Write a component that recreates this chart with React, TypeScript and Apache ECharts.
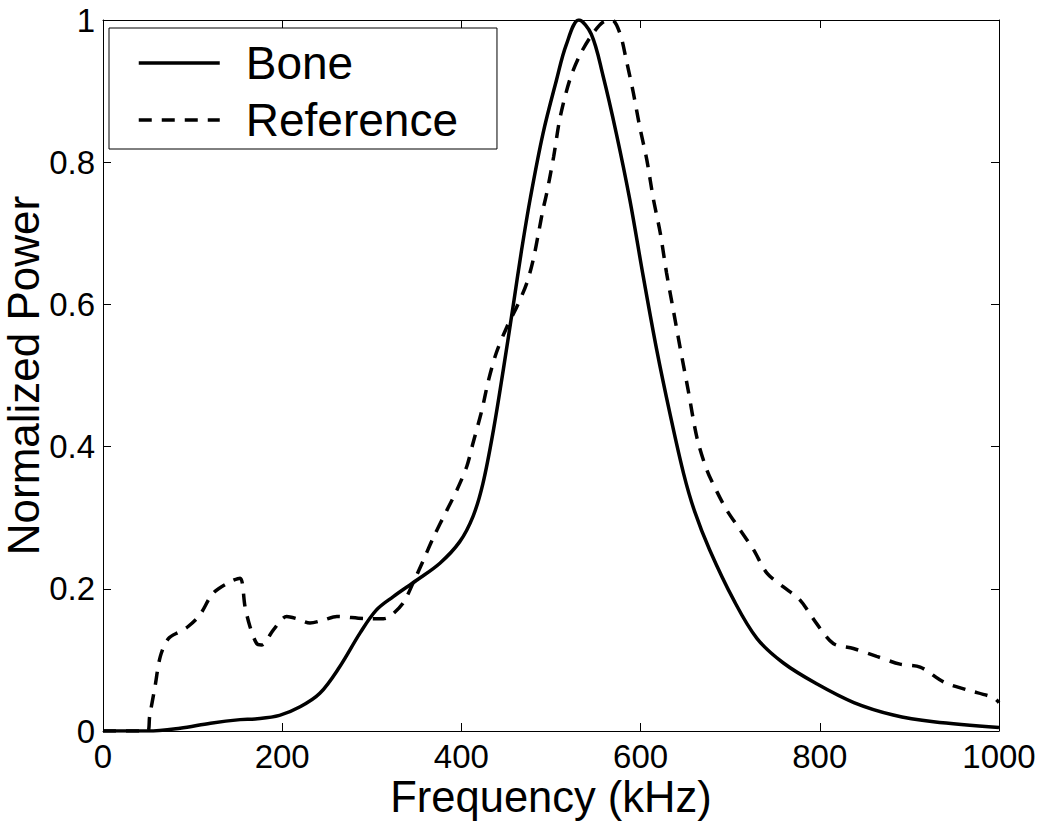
import React, { useEffect, useRef } from "react";
import * as echarts from "echarts";

const boneFreq = [0, 50, 86, 120, 153, 170, 197, 220, 242, 264, 287, 305, 324, 350, 376, 398, 413, 424, 436, 447, 458, 467, 477, 491, 506, 517, 531, 545, 558, 573, 588, 603, 618, 633, 648, 660, 677, 704, 730, 759, 797, 838, 882, 927, 1000];
const bonePower = [0, 0, 0.004, 0.011, 0.016, 0.017, 0.022, 0.034, 0.053, 0.09, 0.138, 0.17, 0.189, 0.212, 0.236, 0.266, 0.302, 0.348, 0.425, 0.51, 0.6, 0.675, 0.75, 0.84, 0.915, 0.965, 1.0, 0.98, 0.922, 0.84, 0.747, 0.639, 0.536, 0.445, 0.362, 0.31, 0.255, 0.184, 0.13, 0.096, 0.066, 0.04, 0.0225, 0.013, 0.005];

const refFreq = [0, 50, 52, 58, 64, 73, 86, 95, 108, 123, 142, 153, 158.5, 164, 171.5, 177, 190, 205, 216, 231, 246, 261, 294, 313, 320, 335, 346, 357.5, 369, 384, 395, 406, 413, 423, 430, 439, 451, 462, 473, 480, 486, 491, 495, 503, 510, 521, 532, 545, 558, 568, 577, 584, 592, 599, 607, 614, 622, 629, 636.5, 644, 653, 663, 674, 685, 696, 711, 726, 741, 759, 778, 796.5, 815, 837.5, 863.5, 889.5, 912, 938, 964, 994, 1000];
const refPower = [0, 0, 0.02, 0.062, 0.105, 0.13, 0.14, 0.147, 0.163, 0.194, 0.21, 0.215, 0.175, 0.147, 0.123, 0.121, 0.142, 0.161, 0.158, 0.152, 0.156, 0.161, 0.158, 0.158, 0.161, 0.18, 0.208, 0.24, 0.273, 0.311, 0.339, 0.372, 0.405, 0.452, 0.492, 0.532, 0.569, 0.597, 0.63, 0.662, 0.7, 0.733, 0.755, 0.808, 0.862, 0.916, 0.95, 0.978, 0.997, 1.0, 0.981, 0.944, 0.897, 0.85, 0.803, 0.75, 0.7, 0.644, 0.592, 0.54, 0.48, 0.412, 0.367, 0.337, 0.311, 0.283, 0.255, 0.222, 0.203, 0.184, 0.151, 0.123, 0.116, 0.105, 0.094, 0.09, 0.069, 0.058, 0.047, 0.04];

const seriesNames = ["Bone", "Reference"];
const xTitle = "Frequency (kHz)";
const yTitle = "Normalized Power";

const FONT = "'Liberation Sans', Arial, Helvetica, sans-serif";

export default function App() {
  const ref = useRef<HTMLDivElement>(null);
  useEffect(() => {
    document.body.style.margin = "0";
    const chart = echarts.init(ref.current!, null, { renderer: "svg" });
    const axisLine = { show: true, onZero: false, lineStyle: { color: "#000", width: 1 } };
    const axisTick = { show: true, inside: true, length: 8, lineStyle: { color: "#000", width: 1 } };
    const fmt = (v: number) => String(Math.round(v * 10) / 10);
    chart.setOption({
      animation: false,
      backgroundColor: "#fff",
      grid: { left: 103, right: 51, top: 20, bottom: 92, containLabel: false, outerBoundsMode: "none" },
      legend: {
        show: true,
        left: 109,
        top: 28,
        orient: "vertical",
        backgroundColor: "#fff",
        borderColor: "#000",
        borderWidth: 1,
        padding: [12, 39, 6, 28],
        itemGap: 11,
        itemWidth: 81,
        itemHeight: 14,
        lineStyle: { width: 3.5 },
        itemStyle: { opacity: 0 },
        textStyle: { fontSize: 46, fontFamily: FONT, color: "#000", padding: [0, 0, 0, 21] },
        data: seriesNames,
      },
      xAxis: [
        {
          type: "value",
          position: "bottom",
          min: 0,
          max: 1000,
          interval: 200,
          axisLine,
          axisTick,
          splitLine: { show: false },
          axisLabel: { color: "#000", fontSize: 33, fontFamily: FONT, margin: 9, formatter: (v: number) => String(v) },
          name: xTitle,
          nameLocation: "middle",
          nameGap: 44,
          nameMoveOverlap: false,
          nameTextStyle: { color: "#000", fontSize: 43.5, fontFamily: FONT },
        },
        {
          type: "value",
          position: "top",
          min: 0,
          max: 1000,
          interval: 200,
          axisLine,
          axisTick,
          splitLine: { show: false },
          axisLabel: { show: false },
        },
      ],
      yAxis: [
        {
          type: "value",
          position: "left",
          min: 0,
          max: 1,
          interval: 0.2,
          axisLine,
          axisTick,
          splitLine: { show: false },
          axisLabel: { color: "#000", fontSize: 33, fontFamily: FONT, margin: 8, formatter: fmt },
          name: yTitle,
          nameLocation: "middle",
          nameGap: 58,
          nameMoveOverlap: false,
          nameTextStyle: { color: "#000", fontSize: 44, fontFamily: FONT },
        },
        {
          type: "value",
          position: "right",
          min: 0,
          max: 1,
          interval: 0.2,
          axisLine,
          axisTick,
          splitLine: { show: false },
          axisLabel: { show: false },
        },
      ],
      series: [
        {
          name: seriesNames[0],
          type: "line",
          xAxisIndex: 0,
          yAxisIndex: 0,
          data: boneFreq.map((f, i) => [f, bonePower[i]]),
          symbol: "none",
          smooth: 0.35,
          lineStyle: { color: "#000", width: 3.5, type: "solid" },
          itemStyle: { color: "#000" },
          z: 3,
        },
        {
          name: seriesNames[1],
          type: "line",
          xAxisIndex: 0,
          yAxisIndex: 0,
          data: refFreq.map((f, i) => [f, refPower[i]]),
          symbol: "none",
          smooth: 0.3,
          lineStyle: { color: "#000", width: 3.5, type: [13, 10] },
          itemStyle: { color: "#000" },
          z: 3,
        },
      ],
    });
    return () => chart.dispose();
  }, []);
  return <div ref={ref} style={{ width: 1050, height: 823 }} />;
}
